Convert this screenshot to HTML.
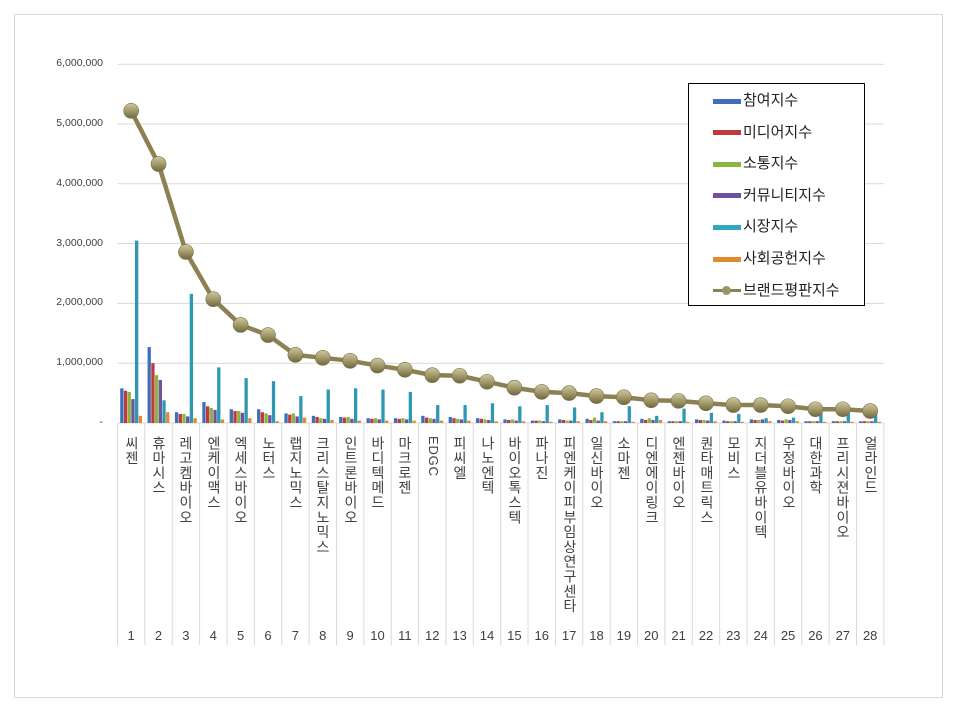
<!DOCTYPE html>
<html><head><meta charset="utf-8">
<style>
body{margin:0;background:#fff;font-family:"Liberation Sans","Noto Sans CJK KR",sans-serif;}
#wrap{position:relative;width:958px;height:711px;overflow:hidden;}
.lab{position:absolute;top:436px;width:20px;writing-mode:vertical-rl;font-size:14px;letter-spacing:0.8px;color:#404040;line-height:20px;font-family:"Liberation Sans","Noto Sans CJK KR",sans-serif;}
.num{position:absolute;top:628px;width:30px;text-align:center;font-size:13px;color:#404040;}
.yl{position:absolute;right:855px;font-size:10.5px;color:#404040;}
</style></head><body>
<div id="wrap">
<svg id="s" width="958" height="711" style="position:absolute;left:0;top:0">
<defs>
<linearGradient id="mk" x1="0" y1="0" x2="0" y2="1"><stop offset="0" stop-color="#cfc8a0"/><stop offset="0.5" stop-color="#a39a6a"/><stop offset="1" stop-color="#6e6640"/></linearGradient>
</defs>
<rect x="14.5" y="14.5" width="928" height="683" fill="#fff" stroke="#d9d9d9"/>
<g id="g"></g>
</svg>
<div class="yl" style="top:57px">6,000,000</div>
<div class="yl" style="top:117px">5,000,000</div>
<div class="yl" style="top:177px">4,000,000</div>
<div class="yl" style="top:237px">3,000,000</div>
<div class="yl" style="top:296px">2,000,000</div>
<div class="yl" style="top:356px">1,000,000</div>
<div class="yl" style="top:416px">-</div>
<div id="labs">
<div class="lab" style="left:122px">씨젠</div>
<div class="lab" style="left:149px">휴마시스</div>
<div class="lab" style="left:176px">레고켐바이오</div>
<div class="lab" style="left:204px">엔케이맥스</div>
<div class="lab" style="left:231px">엑세스바이오</div>
<div class="lab" style="left:259px">노터스</div>
<div class="lab" style="left:286px">랩지노믹스</div>
<div class="lab" style="left:313px">크리스탈지노믹스</div>
<div class="lab" style="left:341px">인트론바이오</div>
<div class="lab" style="left:368px">바디텍메드</div>
<div class="lab" style="left:395px">마크로젠</div>
<div class="lab" style="left:423px;text-orientation:sideways;font-size:13px">EDGC</div>
<div class="lab" style="left:450px">피씨엘</div>
<div class="lab" style="left:478px">나노엔텍</div>
<div class="lab" style="left:505px">바이오톡스텍</div>
<div class="lab" style="left:532px">파나진</div>
<div class="lab" style="left:560px">피엔케이피부임상연구센타</div>
<div class="lab" style="left:587px">일신바이오</div>
<div class="lab" style="left:614px">소마젠</div>
<div class="lab" style="left:642px">디엔에이링크</div>
<div class="lab" style="left:669px">엔젠바이오</div>
<div class="lab" style="left:697px">퀀타매트릭스</div>
<div class="lab" style="left:724px">모비스</div>
<div class="lab" style="left:751px">지더블유바이텍</div>
<div class="lab" style="left:779px">우정바이오</div>
<div class="lab" style="left:806px">대한과학</div>
<div class="lab" style="left:833px">프리시젼바이오</div>
<div class="lab" style="left:861px">얼라인드</div>
</div>
<div id="nums"></div>
<div style="position:absolute;left:688px;top:83px;width:175px;height:221px;border:1px solid #000;background:#fff;font-size:15px;color:#222;">
<div style="position:absolute;left:24px;top:1px;line-height:31.6px;">
<div><span style="display:inline-block;width:28px;height:5px;background:#3f6fb8;vertical-align:middle;margin-right:2px"></span>참여지수</div>
<div><span style="display:inline-block;width:28px;height:5px;background:#c0393b;vertical-align:middle;margin-right:2px"></span>미디어지수</div>
<div><span style="display:inline-block;width:28px;height:5px;background:#8bb53f;vertical-align:middle;margin-right:2px"></span>소통지수</div>
<div><span style="display:inline-block;width:28px;height:5px;background:#6e52a0;vertical-align:middle;margin-right:2px"></span>커뮤니티지수</div>
<div><span style="display:inline-block;width:28px;height:5px;background:#33a6c0;vertical-align:middle;margin-right:2px"></span>시장지수</div>
<div><span style="display:inline-block;width:28px;height:5px;background:#e38a2f;vertical-align:middle;margin-right:2px"></span>사회공헌지수</div>
<div><span style="display:inline-block;width:28px;height:3px;background:#8b8152;vertical-align:middle;margin-right:2px;position:relative"><span style="position:absolute;left:9px;top:-3px;width:9px;height:9px;border-radius:50%;background:#9d9464"></span></span>브랜드평판지수</div>
</div></div>
</div>
<script>
var g=document.getElementById('g'),ns='http://www.w3.org/2000/svg';
function el(t,a){var e=document.createElementNS(ns,t);for(var k in a)e.setAttribute(k,a[k]);g.appendChild(e);return e;}
var x0=117.5,w=27.37,y0=423,py=59.8;
for(var i=1;i<=6;i++)el('line',{x1:x0,x2:884,y1:y0-i*py,y2:y0-i*py,stroke:'#d9d9d9'});
for(var i=0;i<=28;i++)el('line',{x1:x0+i*w,x2:x0+i*w,y1:y0,y2:645,stroke:'#d9d9d9'});
el('line',{x1:x0,x2:884,y1:y0,y2:y0,stroke:'#d9d9d9'});
var B=[[.58,.54,.52,.40,3.05,.12],[1.27,1.0,.8,.72,.38,.18],[.18,.15,.15,.11,2.16,.08],[.35,.28,.25,.22,.93,.06],[.23,.2,.2,.17,.75,.08],[.23,.18,.16,.13,.7,.03],[.16,.14,.16,.11,.45,.09],[.12,.1,.08,.07,.56,.05],[.1,.09,.1,.07,.58,.04],[.08,.07,.08,.06,.56,.04],[.08,.07,.08,.06,.52,.04],[.12,.09,.08,.07,.3,.04],[.1,.08,.07,.06,.3,.04],[.08,.07,.06,.05,.33,.03],[.06,.05,.06,.04,.28,.03],[.04,.04,.04,.03,.3,.02],[.06,.05,.04,.04,.26,.03],[.07,.05,.09,.04,.18,.03],[.03,.03,.03,.03,.28,.02],[.07,.05,.08,.05,.12,.05],[.03,.03,.03,.03,.24,.02],[.06,.05,.05,.04,.17,.03],[.04,.03,.03,.03,.15,.02],[.06,.05,.05,.06,.08,.03],[.05,.04,.06,.05,.09,.03],[.03,.03,.03,.03,.17,.02],[.03,.03,.03,.03,.24,.02],[.03,.03,.03,.03,.2,.02]];
var C=['#3f6fb8','#c0393b','#8bb53f','#6e52a0','#2e98b3','#e38a2f'];
var L=[5.22,4.33,2.86,2.07,1.64,1.47,1.14,1.09,1.04,.96,.89,.80,.79,.69,.59,.52,.50,.45,.43,.38,.37,.33,.30,.30,.28,.23,.23,.20];
var nums=document.getElementById('nums'),h='';
for(var i=0;i<28;i++){var l=x0+i*w;
 for(var j=0;j<6;j++){var hh=B[i][j]*py;el('rect',{x:l+2.7+j*3.7,y:y0-hh,width:3.3,height:hh,fill:C[j]});}
 h+='<div class="num" style="left:'+(l+w/2-15)+'px">'+(i+1)+'</div>';}
nums.innerHTML=h;
var pts=L.map(function(v,i){return (x0+(i+.5)*w)+','+(y0-v*py);}).join(' ');
el('polyline',{points:pts,fill:'none',stroke:'#8b8152','stroke-width':4.5,'stroke-linejoin':'round'});
L.forEach(function(v,i){el('circle',{cx:x0+(i+.5)*w,cy:y0-v*py,r:7.5,fill:'url(#mk)',stroke:'#7a7148','stroke-width':.6});});
</script>
</body></html>
